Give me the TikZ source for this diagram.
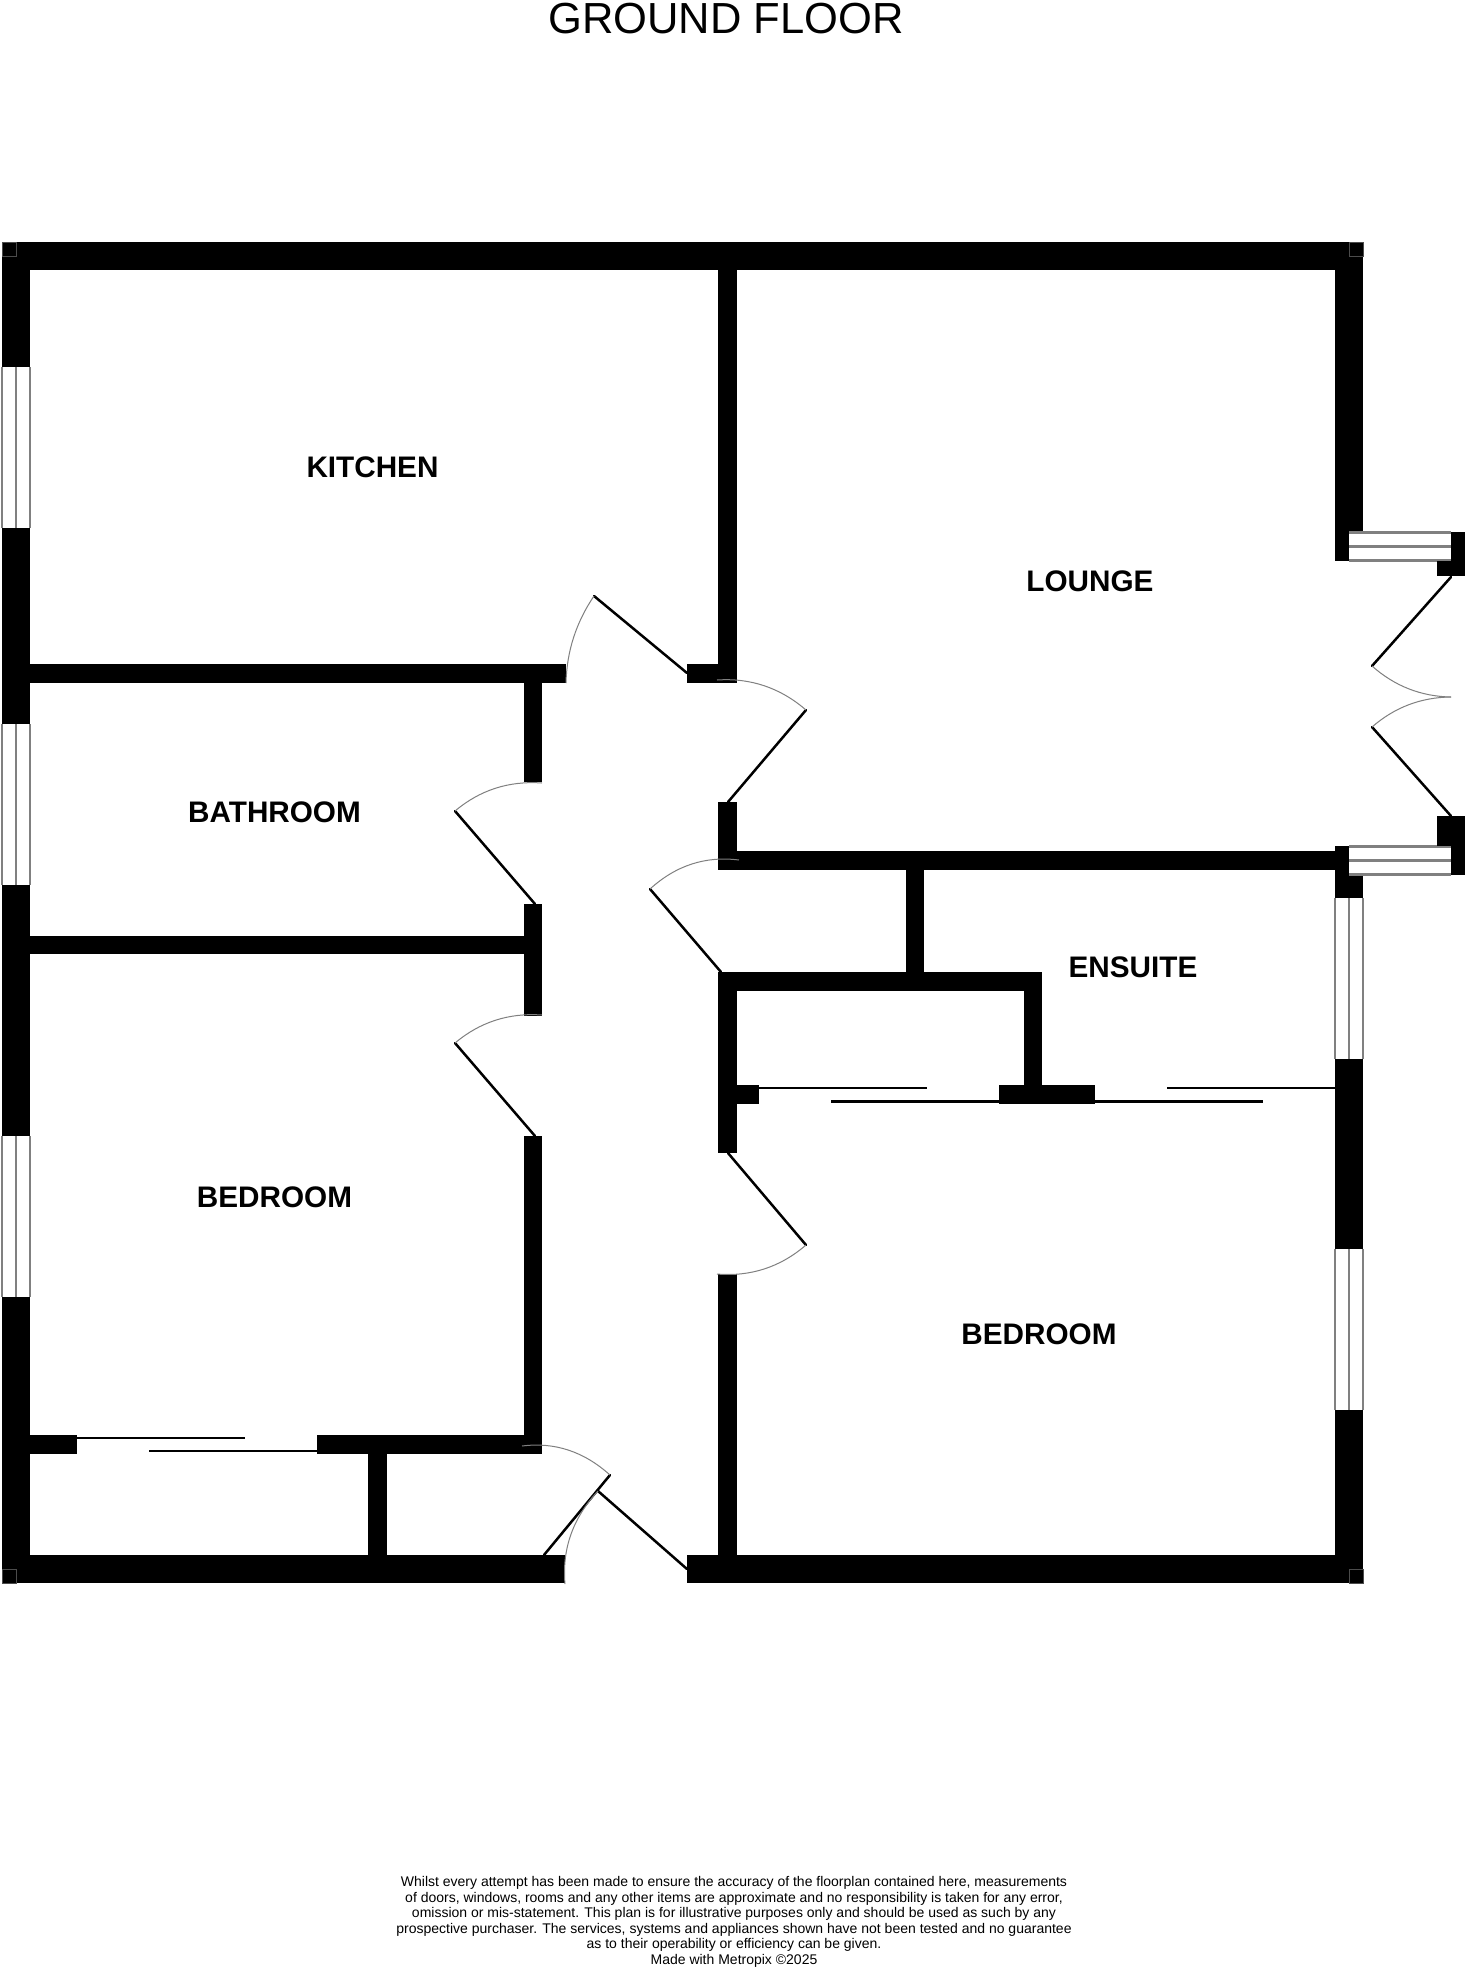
\documentclass[tikz,border=0pt]{standalone}
\usepackage{fontspec}
\setmainfont{Liberation Sans}
\usetikzlibrary{calc}
\definecolor{wingray}{gray}{0.5}
\tikzset{
  leaf/.style={draw=black,line width=2.5pt,line cap=round},
  swing/.style={draw=wingray,line width=1pt},
  slider/.style={draw=black,line width=2.5pt},
  winline/.style={draw=wingray,line width=2.6pt},
  room/.style={font=\fontsize{29.7}{30}\selectfont\bfseries,inner sep=0pt,anchor=center},
  corner/.style={draw=black!70,line width=0.4pt}
}
\newcommand\wall[4]{\fill[black] (#1,#2) rectangle (#3,#4);}
\newcommand\winv[3]{% x-left, y-top, y-bottom (wall 28 thick)
  \fill[white] (#1,#2) rectangle ({#1+28},#3);
  \draw[winline] (#1,#2) -- (#1,#3);
  \draw[winline] ({#1+14},#2) -- ({#1+14},#3);
  \draw[winline] ({#1+28},#2) -- ({#1+28},#3);}
\newcommand\winh[3]{% y-top, x-left, x-right
  \fill[white] (#2,#1) rectangle (#3,{#1+28.4});
  \draw[winline] (#2,#1) -- (#3,#1);
  \draw[winline] (#2,{#1+14.2}) -- (#3,{#1+14.2});
  \draw[winline] (#2,{#1+28.4}) -- (#3,{#1+28.4});}
\newcommand\swingdoor[4]{% hinge, tip, end of arc on the wall, control factor
  \coordinate (hh) at (#1); \coordinate (tt) at (#2); \coordinate (ee) at (#3);
  \coordinate (cc) at ($(hh)+#4*(tt)-#4*(hh)+#4*(ee)-#4*(hh)$);
  \draw[leaf] (hh) -- (tt);
  \draw[swing] (tt) .. controls ($(tt)!0.667!(cc)$) and ($(ee)!0.667!(cc)$) .. (ee);}
\begin{document}
\begin{tikzpicture}[x=1pt,y=-1pt]
\useasboundingbox (0,0) rectangle (1472,1968);
\fill[white] (0,0) rectangle (1472,1968);
% outer walls
\wall{2}{242}{1363}{270}      % top
\wall{2}{1555}{565}{1583}     % bottom left
\wall{687}{1555}{1363}{1583}  % bottom right
\wall{2}{242}{30}{1583}       % left
\wall{1335}{242}{1363}{532}   % right upper
\wall{1335}{532}{1349}{561}
\wall{1335}{846}{1349}{898}
\wall{1349}{875}{1363}{898}
\wall{1335}{898}{1363}{1583}  % right lower
% windows
\winv{2}{367}{528}
\winv{2}{724}{885}
\winv{2}{1136}{1297}
\winv{1335}{898}{1059}
\winv{1335}{1249}{1410}
\winh{532.3}{1349}{1451}
\winh{846.3}{1349}{1451}
% jambs of the lounge doors
\wall{1451}{532}{1465}{576}
\wall{1437}{561}{1465}{576}
\wall{1437}{816}{1465}{846}
\wall{1451}{846}{1465}{875}
% inner walls
\wall{30}{664}{566}{683}
\wall{687}{664}{737}{683}
\wall{718}{270}{737}{683}
\wall{524}{683}{542}{782}
\wall{30}{936}{542}{954}
\wall{524}{904}{542}{1016}
\wall{524}{1136}{542}{1454}
\wall{718}{802}{737}{870}
\wall{737}{851}{1335}{870}
\wall{906}{870}{924}{975}
\wall{718}{972}{1042}{991}
\wall{718}{991}{737}{1153}
\wall{1024}{991}{1042}{1085}
\wall{737}{1085}{759}{1104}
\wall{999}{1085}{1095}{1104}
\wall{718}{1274}{737}{1555}
\wall{30}{1435}{77}{1454}
\wall{317}{1435}{542}{1454}
\wall{368}{1454}{387}{1555}
% corner marks
\draw[corner] (2,242) rectangle (16,256);
\draw[corner] (1349,242) rectangle (1363,256);
\draw[corner] (2,1569) rectangle (16,1583);
\draw[corner] (1349,1569) rectangle (1363,1583);
% sliding doors
\draw[slider] (759,1088) -- (927,1088);
\draw[slider] (831,1101.7) -- (999,1101.7);
\draw[slider] (1095,1101.7) -- (1263,1101.7);
\draw[slider] (1167,1088) -- (1335,1088);
\draw[slider] (77,1438) -- (245,1438);
\draw[slider] (149,1451) -- (317,1451);
% swing doors
\swingdoor{687,673}{594,596}{566,683}{0.56}
\swingdoor{728,802}{806,710}{717,680}{0.586}
\swingdoor{721,972}{650,889}{739,860}{0.607}
\swingdoor{535,904}{455,811}{542,783}{0.582}
\swingdoor{535,1136}{455,1043}{542,1015}{0.582}
\swingdoor{728,1153}{806,1245}{717,1274}{0.588}
\swingdoor{1451,577}{1372,666}{1451,697}{0.57}
\swingdoor{1451,816}{1372,727}{1451,697}{0.57}
\swingdoor{544,1555}{610,1475}{522,1446}{0.61}
\swingdoor{687,1569}{598,1491}{565,1584}{0.60}
% texts
\node[font=\fontsize{43.5}{43.5}\selectfont,inner sep=0pt] (title) at (726,19) {GROUND FLOOR};
\node[room] (kitchen) at (372.5,467.5) {KITCHEN};
\node[room] (lounge) at (1090,581.5) {LOUNGE};
\node[room] (bathroom) at (274.5,812) {BATHROOM};
\node[room] (ensuite) at (1133,967) {ENSUITE};
\node[room] (bedrooma) at (274.5,1197) {BEDROOM};
\node[room] (bedroomb) at (1039,1334.5) {BEDROOM};
\node[font=\fontsize{14}{15.6}\selectfont,align=center,inner sep=0pt,anchor=south] (note) at (734,1967.5) {Whilst every attempt has been made to ensure the accuracy of the floorplan contained here, measurements\\
of doors, windows, rooms and any other items are approximate and no responsibility is taken for any error,\\
omission or mis-statement. This plan is for illustrative purposes only and should be used as such by any\\
prospective purchaser. The services, systems and appliances shown have not been tested and no guarantee\\
as to their operability or efficiency can be given.\\
Made with Metropix ©2025};
\end{tikzpicture}
\end{document}
